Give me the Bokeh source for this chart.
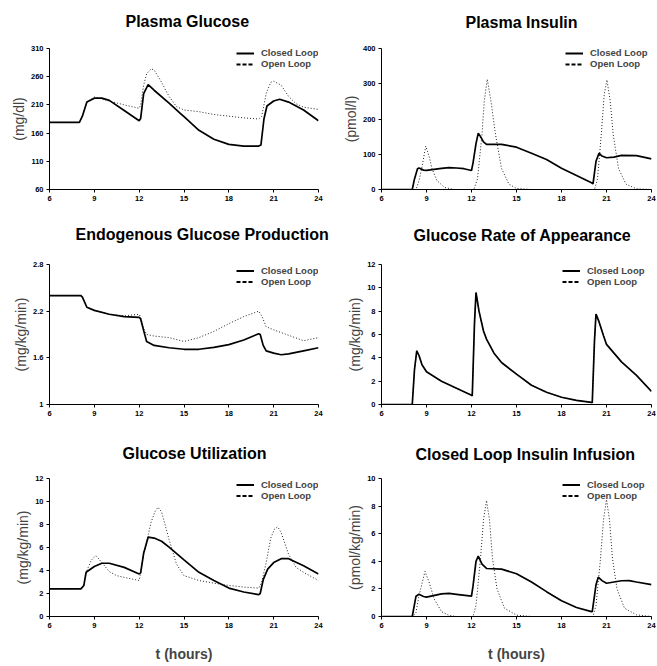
from bokeh.plotting import figure
from bokeh.layouts import column, row
from bokeh.models import Range1d, FixedTicker, Legend, LegendItem, Title
from bokeh.embed import file_html
from bokeh.resources import INLINE

FONT = "Liberation Sans"

x_ticks = [6, 9, 12, 15, 18, 21, 24]

# ---------------- Plasma Glucose (mg/dl) ----------------
glu_cl_t = [6, 8, 8.2, 8.5, 9, 9.5, 10, 11, 12, 12.1, 12.3, 12.6, 13, 14, 14.75, 15, 16, 17, 18, 19, 20, 20.15, 20.35, 20.55, 21, 21.4, 22, 23, 24]
glu_cl = [179, 179, 190, 215, 222, 222, 218, 200, 182, 186, 230, 246, 236, 213, 195, 189, 165, 149, 140, 137, 137, 139, 185, 208, 217, 220, 215, 201, 182]
glu_ol_t = [6, 8, 8.2, 8.5, 9, 10, 11, 12, 12.1, 12.3, 12.5, 12.8, 13, 13.5, 14, 14.5, 15, 16, 17, 18, 19, 20, 20.2, 20.5, 20.8, 21, 21.5, 22, 22.5, 23, 24]
glu_ol = [179, 179, 190, 215, 224, 217, 210, 204, 210, 245, 265, 274, 272, 250, 225, 207, 201, 198, 193, 190, 187, 185, 190, 230, 250, 252, 245, 225, 212, 206, 202]
glu_ticks = [60, 110, 160, 210, 260, 310]

# ---------------- Plasma Insulin (pmol/l) ----------------
ins_cl_t = [6, 8.05, 8.2, 8.4, 8.5, 8.8, 9, 10, 10.5, 11, 11.5, 12, 12.1, 12.3, 12.45, 12.6, 12.8, 13, 14, 15, 16, 17, 18, 19, 20, 20.1, 20.3, 20.5, 20.7, 21, 21.5, 22, 23, 24]
ins_cl = [0, 0, 30, 59, 61, 55, 54, 60, 62, 61, 59, 54, 75, 130, 160, 150, 135, 128, 128, 120, 103, 85, 60, 40, 19, 16, 80, 103, 95, 90, 92, 97, 96, 87]
ins_ol_t = [6, 8.1, 8.3, 8.5, 8.68, 8.95, 9.2, 9.36, 9.7, 10.2, 10.8, 12.15, 12.4, 12.7, 12.85, 13.05, 13.3, 13.6, 14.0, 14.5, 15, 16, 20.2, 20.4, 20.65, 20.85, 21.03, 21.25, 21.45, 21.8, 22.3, 23, 24]
ins_ol = [0, 0, 0, 25, 60, 123, 90, 60, 25, 6, 0, 0, 30, 156, 250, 313, 250, 156, 60, 15, 3, 0, 0, 30, 155, 270, 311, 250, 155, 60, 15, 2, 0]
ins_ticks = [0, 100, 200, 300, 400]

# ---------------- Endogenous Glucose Production ----------------
egp_cl_t = [6, 8.1, 8.2, 8.5, 9, 10, 11, 12, 12.1, 12.3, 12.5, 13, 14, 15, 16, 17, 18, 19, 20, 20.1, 20.3, 20.5, 21, 21.5, 22, 23, 24]
egp_cl = [2.4, 2.4, 2.38, 2.25, 2.21, 2.16, 2.13, 2.12, 2.1, 1.95, 1.81, 1.76, 1.73, 1.71, 1.71, 1.735, 1.77, 1.83, 1.91, 1.9, 1.76, 1.69, 1.66, 1.64, 1.65, 1.69, 1.73]
egp_ol_t = [6, 8.1, 8.2, 8.5, 9, 10, 11, 12, 12.1, 12.3, 12.5, 13, 14, 15, 16, 17, 18, 19, 20, 20.2, 20.5, 21, 22, 23, 24]
egp_ol = [2.4, 2.4, 2.38, 2.25, 2.21, 2.16, 2.14, 2.16, 2.12, 1.98, 1.9, 1.88, 1.86, 1.81, 1.86, 1.94, 2.04, 2.13, 2.2, 2.14, 2.0, 1.96, 1.89, 1.82, 1.86]
egp_ticks = [1, 1.6, 2.2, 2.8]
egp_tick_labels = ["1", "1.6", "2.2", "2.8"]

# ---------------- Glucose Rate of Appearance ----------------
ra_t = [6, 8.05, 8.2, 8.35, 8.5, 8.7, 9, 10, 11, 12, 12.05, 12.2, 12.3, 12.5, 12.8, 13, 13.5, 14, 15, 16, 17, 18, 19, 20, 20.05, 20.2, 20.3, 20.5, 20.8, 21, 22, 23, 24]
ra_cl = [0, 0, 3, 4.6, 4.2, 3.4, 2.8, 2.0, 1.4, 0.8, 0.75, 7, 9.6, 8.0, 6.3, 5.6, 4.4, 3.6, 2.6, 1.65, 1.05, 0.62, 0.35, 0.18, 0.15, 5.5, 7.75, 7.1, 5.9, 5.15, 3.65, 2.5, 1.12]
ra_ol = ra_cl
ra_ticks = [0, 2, 4, 6, 8, 10, 12]

# ---------------- Glucose Utilization ----------------
gu_cl_t = [6, 8.1, 8.3, 8.45, 9, 9.5, 10, 11, 12, 12.1, 12.3, 12.6, 13, 13.5, 14, 15, 16, 17, 18, 19, 20, 20.1, 20.3, 20.6, 21, 21.5, 22, 23, 24]
gu_cl = [2.4, 2.4, 2.7, 3.85, 4.35, 4.63, 4.63, 4.27, 3.7, 3.8, 5.5, 6.9, 6.82, 6.54, 6.03, 4.92, 3.84, 3.13, 2.47, 2.13, 1.9, 2.0, 3.2, 4.12, 4.69, 5.03, 5.03, 4.41, 3.7]
gu_ol_t = [6, 8.1, 8.3, 8.5, 8.8, 9.1, 9.5, 10, 10.5, 11, 12, 12.1, 12.3, 12.5, 12.8, 13.05, 13.26, 13.5, 14, 14.5, 15, 16, 17, 18, 19, 20, 20.2, 20.5, 20.8, 21.05, 21.27, 21.5, 22, 22.5, 23, 24]
gu_ol = [2.4, 2.4, 2.8, 4.0, 4.9, 5.3, 4.7, 3.9, 3.55, 3.4, 3.13, 3.8, 5.5, 6.5, 8.2, 9.1, 9.5, 9.1, 6.7, 4.55, 3.55, 3.13, 2.9, 2.7, 2.56, 2.47, 3.0, 4.7, 6.8, 7.6, 7.8, 7.3, 5.4, 4.27, 3.84, 3.13]
gu_ticks = [0, 2, 4, 6, 8, 10, 12]

# ---------------- Closed Loop Insulin Infusion ----------------
inf_cl_t = [6, 8.05, 8.3, 8.5, 8.8, 9, 10, 10.5, 11, 12, 12.1, 12.3, 12.45, 12.7, 13, 14, 15, 16, 17, 18, 19, 20, 20.05, 20.3, 20.45, 20.7, 21, 22, 22.5, 23, 24]
inf_cl = [0, 0, 1.47, 1.61, 1.45, 1.4, 1.64, 1.68, 1.61, 1.47, 2.2, 4.0, 4.37, 3.8, 3.48, 3.43, 3.1, 2.5, 1.8, 1.14, 0.65, 0.35, 0.35, 2.3, 2.85, 2.6, 2.41, 2.59, 2.6, 2.5, 2.31]
inf_ol_t = [6, 8.1, 8.3, 8.5, 8.9, 9.2, 9.5, 10, 10.5, 11, 12.1, 12.3, 12.6, 12.8, 13.0, 13.2, 13.4, 13.7, 14.2, 15, 16, 20.1, 20.3, 20.6, 20.8, 21.0, 21.2, 21.4, 21.7, 22.2, 23, 24]
inf_ol = [0, 0, 0.3, 1.5, 3.27, 2.4, 1.3, 0.35, 0.08, 0, 0, 0.8, 4.2, 7.0, 8.41, 7.0, 4.2, 2.0, 0.6, 0.1, 0, 0, 0.8, 4.2, 7.0, 8.48, 7.0, 4.2, 2.0, 0.6, 0.12, 0]
inf_ticks = [0, 2, 4, 6, 8, 10]

legend_labels = ["Closed Loop", "Open Loop"]
NAN = float("nan")


def make_panel(title, ylabel, yticks, ylabels, t_cl, y_cl, t_ol, y_ol,
               width, height, bl, br, bt, bb, title_gap, title_offset, leg_left, leg_row, xlabel=None):
    p = figure(width=width, height=height, output_backend="svg", toolbar_location=None,
               title=None,
               x_range=Range1d(6, 24), y_range=Range1d(yticks[0], yticks[-1]),
               min_border_left=bl, min_border_right=br, min_border_top=bt, min_border_bottom=bb)
    p.background_fill_color = None
    p.border_fill_color = None
    p.outline_line_color = None
    p.grid.visible = False

    # spacer nearest to the frame, then the title above it
    spacer = Title(text=" ", text_font_size="1px", standoff=title_gap)
    p.add_layout(spacer, "above")
    ttl = Title(text=title, align="left", offset=title_offset, text_font=FONT,
                text_font_size="16px", text_font_style="bold", text_color="black", standoff=0)
    p.add_layout(ttl, "above")

    p.line(t_ol, y_ol, line_color="#222222", line_width=1, line_dash="1 2")
    p.line(t_cl, y_cl, line_color="black", line_width=1.7)

    # legend-only renderers (no visible data)
    r_leg_cl = p.line(x=[NAN], y=[NAN], line_color="black", line_width=2)
    r_leg_ol = p.line(x=[NAN], y=[NAN], line_color="black", line_width=2, line_dash="4 2")

    for ax in (p.xaxis[0], p.yaxis[0]):
        ax.axis_line_color = "black"
        ax.axis_line_width = 1
        ax.major_tick_in = 0
        ax.major_tick_out = 3
        ax.minor_tick_in = 0
        ax.minor_tick_out = 0
        ax.major_label_standoff = 3
        ax.major_label_text_font = FONT
        ax.major_label_text_font_size = "7.5px"
        ax.major_label_text_font_style = "bold"
        ax.major_label_text_color = "black"

    p.xaxis.ticker = FixedTicker(ticks=x_ticks)
    p.yaxis.ticker = FixedTicker(ticks=yticks)
    p.yaxis.major_label_overrides = {t: l for t, l in zip(yticks, ylabels)}

    p.yaxis.axis_label = ylabel
    p.yaxis.axis_label_text_font = FONT
    p.yaxis.axis_label_text_font_size = "14px"
    p.yaxis.axis_label_text_font_style = "normal"
    p.yaxis.axis_label_standoff = 1

    if xlabel:
        p.xaxis.axis_label = xlabel
        p.xaxis.axis_label_text_font = FONT
        p.xaxis.axis_label_text_font_size = "14px"
        p.xaxis.axis_label_text_font_style = "bold"
        p.xaxis.axis_label_standoff = 15

    frame_h = height - bt - bb
    leg_h = 2 * leg_row
    legend = Legend(items=[LegendItem(label=legend_labels[0], renderers=[r_leg_cl]),
                           LegendItem(label=legend_labels[1], renderers=[r_leg_ol])],
                    location=(leg_left, frame_h - leg_h - 1))
    legend.background_fill_alpha = 0
    legend.border_line_alpha = 0
    legend.padding = 0
    legend.margin = 0
    legend.spacing = 0
    legend.label_text_font = FONT
    legend.label_text_font_size = "9.5px"
    legend.label_text_font_style = "bold"
    legend.label_height = leg_row
    legend.glyph_height = leg_row
    legend.glyph_width = 18
    legend.label_standoff = 7
    p.add_layout(legend)
    return p


W1, W2 = 330, 326
L1, R1 = 49, 12
L2, R2 = 51, 5

p1 = make_panel("Plasma Glucose", "(mg/dl)", glu_ticks, [str(v) for v in glu_ticks],
                glu_cl_t, glu_cl, glu_ol_t, glu_ol, W1, 218, L1, R1, 48, 29, 16, 76, 187, 10)
p2 = make_panel("Plasma Insulin", "(pmol/l)", ins_ticks, [str(v) for v in ins_ticks],
                ins_cl_t, ins_cl, ins_ol_t, ins_ol, W2, 218, L2, R2, 48, 29, 15, 84, 184, 10)
p3 = make_panel("Endogenous Glucose Production", "(mg/kg/min)", egp_ticks, egp_tick_labels,
                egp_cl_t, egp_cl, egp_ol_t, egp_ol, W1, 218, L1, R1, 46, 32, 19, 26, 187, 11)
p4 = make_panel("Glucose Rate of Appearance", "(mg/kg/min)", ra_ticks, [str(v) for v in ra_ticks],
                ra_t, ra_cl, ra_t, ra_ol, W2, 218, L2, R2, 46, 32, 18, 32, 181, 11)
p5 = make_panel("Glucose Utilization", "(mg/kg/min)", gu_ticks, [str(v) for v in gu_ticks],
                gu_cl_t, gu_cl, gu_ol_t, gu_ol, W1, 229, L1, R1, 42, 49, 14, 73, 187, 11,
                xlabel="t (hours)")
p6 = make_panel("Closed Loop Insulin Infusion", "(pmol/kg/min)", inf_ticks, [str(v) for v in inf_ticks],
                inf_cl_t, inf_cl, inf_ol_t, inf_ol, W2, 229, L2, R2, 42, 49, 13, 34, 181, 11,
                xlabel="t (hours)")

layout = column(row(p1, p2), row(p3, p4), row(p5, p6))

with open("out.html", "w") as f:
    f.write(file_html(layout, INLINE))
